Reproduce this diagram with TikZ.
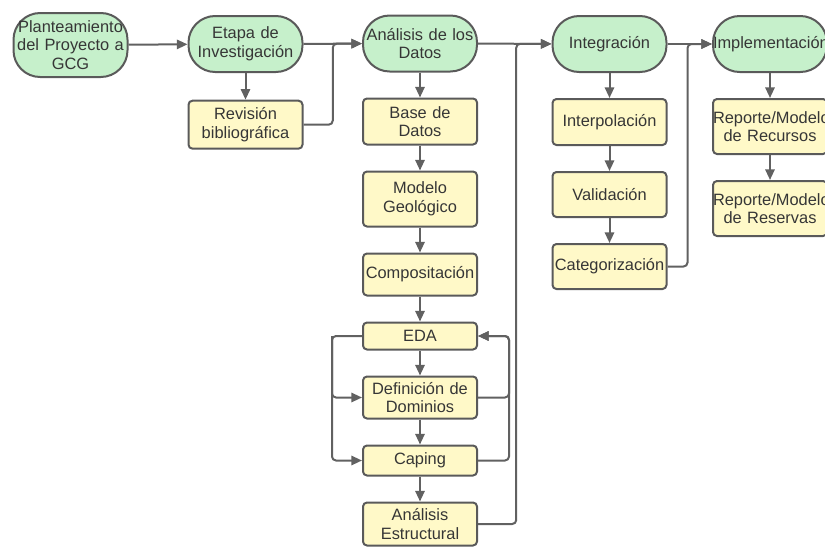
\documentclass[tikz,border=0pt]{standalone}
\usepackage{fontspec}
\setmainfont{Liberation Sans}
\usepackage{xcolor}
\usetikzlibrary{positioning, arrows.meta, calc}
\definecolor{verdeFase}{HTML}{C6F0CB}
\definecolor{amarilloTarea}{HTML}{FFF9C8}
\definecolor{borde}{HTML}{5A5A5A}
\definecolor{linea}{HTML}{616161}
\definecolor{texto}{HTML}{363636}
\tikzstyle{fase} = [rectangle, rounded corners=20pt, minimum width=85.5pt, minimum height=42pt, text width=85.5pt, inner xsep=0pt, inner ysep=1pt, align=center, draw=borde, line width=1.5pt, fill=verdeFase, text=texto, font=\fontsize{12.3}{14}\selectfont]
\tikzstyle{tarea} = [rectangle, rounded corners=3pt, minimum width=85.5pt, text width=85.5pt, inner xsep=0pt, inner ysep=1pt, align=center, draw=borde, line width=1.5pt, fill=amarilloTarea, text=texto, font=\fontsize{12.3}{14}\selectfont]
\tikzstyle{arrow} = [line width=1.5pt, draw=linea, rounded corners=3pt, -{Triangle[length=8pt,width=7pt]}]

\begin{document}
\begin{tikzpicture}[x=0.75pt, y=-0.75pt, node distance=18.75pt]
        \useasboundingbox (0,0) rectangle (825,550);
        % fases
        \node (plan) [fase, minimum height=48pt] at (70.5,45) {Planteamiento\\del Proyecto a\\GCG};
        \node (etapa) [fase] at (245.5,44) {Etapa de\\Investigación};
        \node (analisis) [fase] at (420,43.5) {Análisis de los\\Datos};
        \node (integra) [fase] at (609.5,44) {Integración};
        \node (impl) [fase] at (770,44) {Implementación};

        % tareas
        \node (revision) [tarea, minimum height=36pt, below=20pt of etapa] {Revisión\\bibliográfica};

        \node (base) [tarea, minimum height=34.5pt, below=of analisis] {Base de\\Datos};
        \node (modelo) [tarea, minimum height=41.25pt, below=of base] {Modelo\\Geológico};
        \node (compo) [tarea, minimum height=31.5pt, below=of modelo] {Compositación};
        \node (eda) [tarea, minimum height=20.25pt, below=of compo] {EDA};
        \node (dominios) [tarea, minimum height=31.5pt, below=of eda] {Definición de\\Dominios};
        \node (caping) [tarea, minimum height=22.5pt, below=of dominios] {Caping};
        \node (estruct) [tarea, minimum height=32.25pt, below=of caping] {Análisis\\Estructural};

        \node (interp) [tarea, minimum height=34.5pt, below=of integra] {Interpolación};
        \node (valida) [tarea, minimum height=33.75pt, below=of interp] {Validación};
        \node (categ) [tarea, minimum height=33.75pt, below=of valida] {Categorización};

        \node (recursos) [tarea, minimum height=41.25pt, below=of impl] {Reporte/Modelo\\de Recursos};
        \node (reservas) [tarea, minimum height=41.25pt, below=of recursos] {Reporte/Modelo\\de Reservas};

        % puntos de union
        \coordinate (j1) at ($(etapa.east)!0.5!(analisis.west)$);
        \coordinate (j2) at ($(analisis.east)!0.52!(integra.west)$);
        \coordinate (j3) at ($(integra.east)!0.45!(impl.west)$);
        \coordinate (edaL) at ($(eda.west)+(-30,0)$);
        \coordinate (edaR) at ($(eda.east)+(31,0)$);

        \draw [arrow] (plan) -- (etapa);
        \draw [arrow] (etapa) -- (analisis);
        \draw [arrow] (etapa) -- (revision);
        \draw [arrow] (revision.east) -| (j1) -- (analisis.west);
        \draw [arrow] (analisis) -- (integra);
        \draw [arrow] (analisis) -- (base);
        \draw [arrow] (base) -- (modelo);
        \draw [arrow] (modelo) -- (compo);
        \draw [arrow] (compo) -- (eda);
        \draw [arrow] (eda) -- (dominios);
        \draw [arrow] (dominios) -- (caping);
        \draw [arrow] (caping) -- (estruct);
        \draw [arrow] (eda.west) -- (edaL) |- (dominios.west);
        \draw [arrow] (edaL) |- (caping.west);
        \draw [arrow] (dominios.east) -| (edaR) -- (eda.east);
        \draw [arrow] (caping.east) -| (edaR) -- (eda.east);
        \draw [arrow] (estruct.east) -| (j2) -- (integra.west);
        \draw [arrow] (integra) -- (impl);
        \draw [arrow] (integra) -- (interp);
        \draw [arrow] (interp) -- (valida);
        \draw [arrow] (valida) -- (categ);
        \draw [arrow] (categ.east) -| (j3) -- (impl.west);
        \draw [arrow] (impl) -- (recursos);
        \draw [arrow] (recursos) -- (reservas);
    \end{tikzpicture}
\end{document}
